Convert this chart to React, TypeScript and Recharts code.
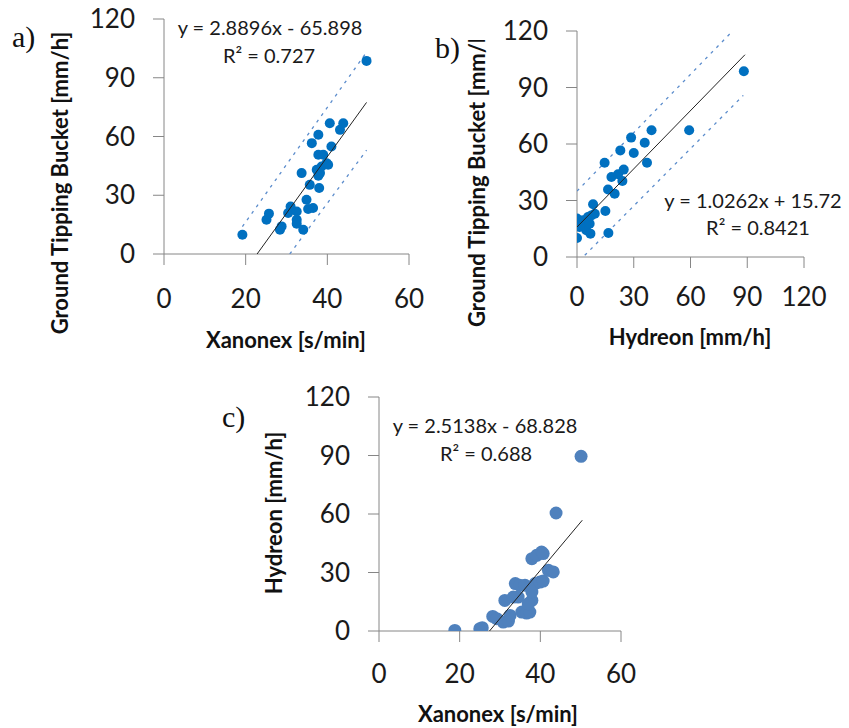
import { ScatterChart, Scatter, XAxis, YAxis } from 'recharts';

// panel a: Xanonex vs ground tipping bucket
const pointsA = [
  { x: 19.2, y: 9.8 }, { x: 25.1, y: 17.5 }, { x: 25.7, y: 20.6 }, { x: 28.4, y: 12.4 },
  { x: 28.8, y: 14.1 }, { x: 30.4, y: 20.9 }, { x: 31, y: 24.3 }, { x: 32.5, y: 21.7 },
  { x: 32.5, y: 17.5 }, { x: 32.5, y: 15.5 }, { x: 34.1, y: 12.4 }, { x: 33.7, y: 41.3 },
  { x: 34.9, y: 27.7 }, { x: 35.3, y: 23 }, { x: 36.5, y: 23.5 }, { x: 35.7, y: 35.3 },
  { x: 36.2, y: 56.6 }, { x: 37.8, y: 60.9 }, { x: 37.8, y: 50.7 }, { x: 39, y: 50.7 },
  { x: 38, y: 33.7 }, { x: 38.2, y: 41.3 }, { x: 37.4, y: 43 }, { x: 38.6, y: 44.7 },
  { x: 39.8, y: 46.4 }, { x: 40.2, y: 45.6 }, { x: 40.6, y: 66.8 }, { x: 41, y: 54.9 },
  { x: 43.1, y: 63.4 }, { x: 43.9, y: 66.8 }, { x: 49.6, y: 98.6 }, { x: 37.8, y: 40 },
];
const trendA = [{ x: 22.8, y: 0 }, { x: 49.6, y: 77.4 }];
const upperA = [{ x: 19.2, y: 14 }, { x: 49.6, y: 103 }];
const lowerA = [{ x: 30.8, y: 0 }, { x: 49.6, y: 53 }];

// panel b: Hydreon vs ground tipping bucket
const pointsB = [
  { x: 0, y: 10.1 }, { x: 0, y: 20.4 }, { x: 0.5, y: 18 }, { x: 3.2, y: 19.5 },
  { x: 4.1, y: 15.9 }, { x: 4.9, y: 14.2 }, { x: 5.8, y: 21.2 }, { x: 6.7, y: 17.7 },
  { x: 7.1, y: 12.4 }, { x: 8.5, y: 28 }, { x: 9.4, y: 23 }, { x: 7.6, y: 22.1 },
  { x: 15, y: 24.4 }, { x: 16.6, y: 12.7 }, { x: 14.6, y: 50 }, { x: 16.4, y: 35.8 },
  { x: 18.2, y: 42.5 }, { x: 19.9, y: 33.6 }, { x: 21.7, y: 43.9 }, { x: 22.9, y: 56.6 },
  { x: 24, y: 40.4 }, { x: 24.7, y: 46.4 }, { x: 28.6, y: 63.4 }, { x: 30, y: 55.2 },
  { x: 35.8, y: 60.7 }, { x: 37, y: 50 }, { x: 39.4, y: 67.3 }, { x: 59.3, y: 67.3 },
  { x: 88.2, y: 98.6 }, { x: 1.4, y: 15.9 },
];
const trendB = [{ x: 0, y: 15.9 }, { x: 88.8, y: 107.4 }];
const upperB = [{ x: 0, y: 35 }, { x: 81.3, y: 119 }];
const lowerB = [{ x: 4.1, y: 0.9 }, { x: 87.9, y: 85.8 }];

// panel c: Xanonex vs Hydreon
const pointsC = [
  { x: 18.8, y: 0.3 }, { x: 25, y: 1.2 }, { x: 25.6, y: 1.7 }, { x: 28.2, y: 7.5 },
  { x: 29.2, y: 6.3 }, { x: 30.8, y: 4.6 }, { x: 32.1, y: 5.1 }, { x: 32.5, y: 8 },
  { x: 31.2, y: 15.7 }, { x: 33.8, y: 24.3 }, { x: 34.9, y: 23.4 }, { x: 36.2, y: 23.4 },
  { x: 34.5, y: 17.4 }, { x: 35.4, y: 9.7 }, { x: 36.6, y: 9.2 }, { x: 37.4, y: 9.7 },
  { x: 37.9, y: 37.1 }, { x: 39.1, y: 38.8 }, { x: 40.3, y: 40.5 }, { x: 40.7, y: 39.7 },
  { x: 37.9, y: 15.7 }, { x: 37.9, y: 20 }, { x: 38.7, y: 24.3 }, { x: 39.9, y: 25.1 },
  { x: 40.7, y: 25.6 }, { x: 42, y: 31.1 }, { x: 43.2, y: 30.3 }, { x: 43.9, y: 60.5 },
  { x: 50.1, y: 89.6 }, { x: 33.3, y: 17.4 }, { x: 37, y: 14 },
];
const trendC = [{ x: 27.4, y: 0 }, { x: 50.4, y: 56.8 }];

const xTicksX = [0, 20, 40, 60];
const xTicksH = [0, 30, 60, 90, 120];
const yTicks = [0, 30, 60, 90, 120];

const W = 849;
const H = 728;
const AXW = 60; // space reserved for axis ticks
const axisColor = '#868686';
const tickFont = { fontSize: 26, fill: '#1a1a1a', fontFamily: 'Lato' };
const bandColor = '#5b8ccc';

const noDot = () => <g />;
const dot = (r: number, fill: string) => (p: any) => <circle cx={p.cx} cy={p.cy} r={r} fill={fill} />;

type Pt = { x: number; y: number };

interface PanelProps {
  plot: { left: number; top: number; right: number; bottom: number };
  xTicks: number[];
  xMax: number;
  xTickMargin: number;
  points: Pt[];
  trend: Pt[];
  upper?: Pt[];
  lower?: Pt[];
  r: number;
  color: string;
}

function Panel({ plot, xTicks, xMax, xTickMargin, points, trend, upper, lower, r, color }: PanelProps) {
  const margin = { top: plot.top, left: plot.left - AXW, right: W - plot.right, bottom: H - plot.bottom - AXW };
  return (
    <div style={{ position: 'absolute', left: 0, top: 0 }}>
      <ScatterChart width={W} height={H} margin={margin}>
        <XAxis
          type="number" dataKey="x" domain={[0, xMax]} ticks={xTicks} height={AXW}
          stroke={axisColor} tickSize={11} tickMargin={xTickMargin} tick={tickFont}
          tickLine={{ stroke: axisColor }} allowDataOverflow
        />
        <YAxis
          type="number" dataKey="y" domain={[0, 120]} ticks={yTicks} width={AXW}
          stroke={axisColor} tickSize={11} tickMargin={18} tick={tickFont}
          tickLine={{ stroke: axisColor }} allowDataOverflow
        />
        {upper && (
          <Scatter data={upper} line={{ stroke: bandColor, strokeWidth: 1.3, strokeDasharray: '3 5' }}
            shape={noDot} isAnimationActive={false} />
        )}
        {lower && (
          <Scatter data={lower} line={{ stroke: bandColor, strokeWidth: 1.3, strokeDasharray: '3 5' }}
            shape={noDot} isAnimationActive={false} />
        )}
        <Scatter data={points} shape={dot(r, color)} isAnimationActive={false} />
        <Scatter data={trend} line={{ stroke: '#222', strokeWidth: 1 }} shape={noDot} isAnimationActive={false} />
      </ScatterChart>
    </div>
  );
}

const eqFont = { fontFamily: 'Lato', fontSize: 20, fill: '#1a1a1a' };
const titleFont = { fontFamily: 'Lato', fontSize: 22, fontWeight: 700, fill: '#111' };
const tagFont = { fontFamily: 'Liberation Serif', fontSize: 30, fill: '#111' };

export default function App() {
  return (
    <div style={{ position: 'absolute', left: 0, top: 0, width: W, height: H, background: '#fff', overflow: 'hidden' }}>
      <Panel plot={{ left: 164, top: 19, right: 409, bottom: 254 }} xTicks={xTicksX} xMax={60}
        xTickMargin={25} points={pointsA} trend={trendA} upper={upperA} lower={lowerA} r={5} color="#0070c0" />
      <Panel plot={{ left: 577, top: 31, right: 804, bottom: 257 }} xTicks={xTicksH} xMax={120}
        xTickMargin={20} points={pointsB} trend={trendB} upper={upperB} lower={lowerB} r={5} color="#0070c0" />
      <Panel plot={{ left: 379, top: 397, right: 621, bottom: 631 }} xTicks={xTicksX} xMax={60}
        xTickMargin={23} points={pointsC} trend={trendC} r={6.5} color="#4f81bd" />
      <svg width={W} height={H} style={{ position: 'absolute', left: 0, top: 0, pointerEvents: 'none' }}>
        <defs>
          <clipPath id="clipB">
            <rect x={440} y={40} width={80} height={320} />
          </clipPath>
        </defs>
        <text x={12} y={47} {...tagFont}>a)</text>
        <text x={435} y={58} {...tagFont}>b)</text>
        <text x={222} y={427} {...tagFont}>c)</text>

        <text x={270} y={35} textAnchor="middle" {...eqFont}>y = 2.8896x  - 65.898</text>
        <text x={269} y={63} textAnchor="middle" {...eqFont}>R² = 0.727</text>
        <text x={753} y={208} textAnchor="middle" {...eqFont}>y = 1.0262x  + 15.72</text>
        <text x={758} y={235} textAnchor="middle" {...eqFont}>R² = 0.8421</text>
        <text x={485} y={433} textAnchor="middle" {...eqFont}>y = 2.5138x  - 68.828</text>
        <text x={486} y={461} textAnchor="middle" {...eqFont}>R² = 0.688</text>

        <text x={286} y={348} textAnchor="middle" {...titleFont}>Xanonex [s/min]</text>
        <text x={690} y={345} textAnchor="middle" {...titleFont}>Hydreon [mm/h]</text>
        <text x={498} y={722} textAnchor="middle" {...titleFont}>Xanonex [s/min]</text>
        <text x={68} y={183} textAnchor="middle" transform="rotate(-90 68 183)" {...titleFont}>
          Ground Tipping Bucket [mm/h]
        </text>
        <g clipPath="url(#clipB)">
          <text x={485} y={327} textAnchor="start" transform="rotate(-90 485 327)" {...titleFont}>
            Ground Tipping Bucket [mm/h]
          </text>
        </g>
        <text x={282} y={513} textAnchor="middle" transform="rotate(-90 282 513)" {...titleFont}>
          Hydreon [mm/h]
        </text>
      </svg>
    </div>
  );
}
